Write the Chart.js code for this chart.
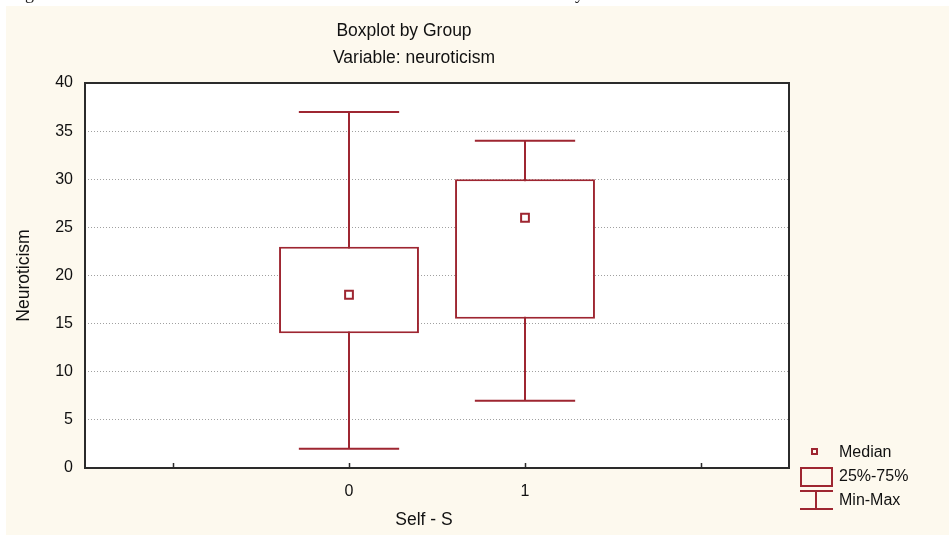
<!DOCTYPE html>
<html>
<head>
<meta charset="utf-8">
<script src="https://cdn.jsdelivr.net/npm/chart.js"></script>
<style>
  html, body { margin: 0; padding: 0; background: #ffffff; }
  #wrap { position: relative; width: 949px; height: 537px; }
</style>
</head>
<body>
<div id="wrap"><canvas id="chart" width="949" height="537"></canvas></div>
<script>
// data
const groups = [0, 1];
const groupLabels = ['0', '1'];
const minVals = [2, 7];
const q1Vals = [14, 15.5];
const medianVals = [18, 26];
const q3Vals = [23, 30];
const maxVals = [37, 34];
const xTickValues = [-1, 0, 1, 2];
const yTickValues = [0, 5, 10, 15, 20, 25, 30, 35, 40];

const RED = '#9e2631';
const TEXT = '#111111';
const FONT = '"Liberation Sans", Arial, sans-serif';

// backgrounds, whiskers, frame, titles and legend
const decor = {
  id: 'decor',
  beforeDraw(chart) {
    const ctx = chart.ctx, a = chart.chartArea;
    ctx.save();
    ctx.fillStyle = '#ffffff';
    ctx.fillRect(0, 0, chart.width, chart.height);
    ctx.fillStyle = '#fdf9ee';
    ctx.fillRect(6, 6, chart.width - 6, chart.height - 8);
    ctx.fillStyle = '#ffffff';
    ctx.fillRect(a.left, a.top, a.right - a.left, a.bottom - a.top);
    ctx.restore();
  },
  beforeDatasetsDraw(chart) {
    const ctx = chart.ctx, x = chart.scales.x, y = chart.scales.y;
    ctx.save();
    ctx.strokeStyle = RED;
    ctx.lineWidth = 2;
    groups.forEach((g, i) => {
      const cx = x.getPixelForValue(g);
      const half = x.getPixelForValue(g + 0.285) - cx;
      const yMin = y.getPixelForValue(minVals[i]);
      const yMax = y.getPixelForValue(maxVals[i]);
      ctx.beginPath();
      ctx.moveTo(cx, yMin); ctx.lineTo(cx, yMax);
      ctx.moveTo(cx - half, yMin); ctx.lineTo(cx + half, yMin);
      ctx.moveTo(cx - half, yMax); ctx.lineTo(cx + half, yMax);
      ctx.stroke();
    });
    ctx.restore();
  },
  afterDraw(chart) {
    const ctx = chart.ctx, a = chart.chartArea, x = chart.scales.x;
    ctx.save();
    // plot frame
    ctx.strokeStyle = '#2b2b2b';
    ctx.lineWidth = 2;
    ctx.strokeRect(a.left, a.top, a.right - a.left, a.bottom - a.top);
    // inner tick marks on x axis
    ctx.lineWidth = 1.5;
    ctx.beginPath();
    xTickValues.forEach(v => {
      const px = Math.round(x.getPixelForValue(v)) + 0.5;
      ctx.moveTo(px, a.bottom); ctx.lineTo(px, a.bottom - 5);
    });
    ctx.stroke();

    // cropped text from the page above
    ctx.fillStyle = '#222';
    ctx.font = '18px "Liberation Serif", serif';
    ctx.textAlign = 'left';
    ctx.textBaseline = 'alphabetic';
    ctx.fillText('g', 25, -1);
    ctx.fillText('y', 575, -1);

    // titles
    ctx.fillStyle = TEXT;
    ctx.font = '17.5px ' + FONT;
    ctx.textAlign = 'center';
    ctx.textBaseline = 'middle';
    ctx.fillText('Boxplot by Group', 404, 31);
    ctx.fillText('Variable: neuroticism', 414, 58);
    ctx.fillText('Self - S', 424, 520);
    ctx.save();
    ctx.translate(24, (a.top + a.bottom) / 2);
    ctx.rotate(-Math.PI / 2);
    ctx.fillText('Neuroticism', 0, 0);
    ctx.restore();

    // legend
    ctx.strokeStyle = RED;
    ctx.lineWidth = 2;
    ctx.strokeRect(812, 449, 5, 5);
    ctx.strokeRect(801, 468, 31, 18);
    ctx.beginPath();
    ctx.moveTo(800, 491); ctx.lineTo(833, 491);
    ctx.moveTo(816, 491); ctx.lineTo(816, 509);
    ctx.moveTo(800, 509); ctx.lineTo(833, 509);
    ctx.stroke();
    ctx.fillStyle = TEXT;
    ctx.font = '16px ' + FONT;
    ctx.textAlign = 'left';
    ctx.fillText('Median', 839, 453);
    ctx.fillText('25%-75%', 839, 477);
    ctx.fillText('Min-Max', 839, 501);
    ctx.restore();
  }
};

const boxData = groups.map((g, i) => ({ x: g, y: [q1Vals[i], q3Vals[i]] }));
const medianData = groups.map((g, i) => ({ x: g, y: medianVals[i] }));

new Chart(document.getElementById('chart'), {
  type: 'bar',
  data: {
    datasets: [
      {
        type: 'line',
        label: 'Median',
        data: medianData,
        showLine: false,
        pointStyle: 'rect',
        pointRadius: 5.5,
        pointBackgroundColor: '#ffffff',
        pointBorderColor: RED,
        pointBorderWidth: 2,
        order: 0
      },
      {
        label: '25%-75%',
        data: boxData,
        backgroundColor: '#ffffff',
        borderColor: RED,
        borderWidth: 2,
        borderSkipped: false,
        categoryPercentage: 1,
        barPercentage: 0.795,
        order: 1
      }
    ]
  },
  options: {
    responsive: false,
    animation: false,
    layout: { padding: { left: 6, top: 83, right: 160, bottom: 0 } },
    plugins: {
      legend: { display: false },
      tooltip: { enabled: false },
      title: { display: false }
    },
    scales: {
      x: {
        type: 'linear',
        min: -1.5,
        max: 2.5,
        offset: false,
        afterFit(scale) { scale.height = 69; },
        afterBuildTicks(scale) { scale.ticks = xTickValues.map(v => ({ value: v })); },
        grid: { display: false, drawTicks: false, offset: false },
        border: { display: false },
        ticks: {
          padding: 14,
          color: TEXT,
          font: { family: FONT, size: 16 },
          maxRotation: 0,
          autoSkip: false,
          callback: v => {
            const i = groups.indexOf(v);
            return i >= 0 ? groupLabels[i] : '';
          }
        }
      },
      y: {
        min: 0,
        max: 40,
        afterFit(scale) { scale.width = 79; },
        afterBuildTicks(scale) { scale.ticks = yTickValues.map(v => ({ value: v })); },
        grid: {
          drawTicks: false,
          lineWidth: 1,
          color: c => (c.tick && (c.tick.value === 0 || c.tick.value === 40)) ? 'rgba(0,0,0,0)' : '#a0a0a0'
        },
        border: { display: false, dash: [1, 2] },
        ticks: {
          padding: 12,
          color: TEXT,
          font: { family: FONT, size: 16 }
        }
      }
    }
  },
  plugins: [decor]
});
</script>
</body>
</html>
